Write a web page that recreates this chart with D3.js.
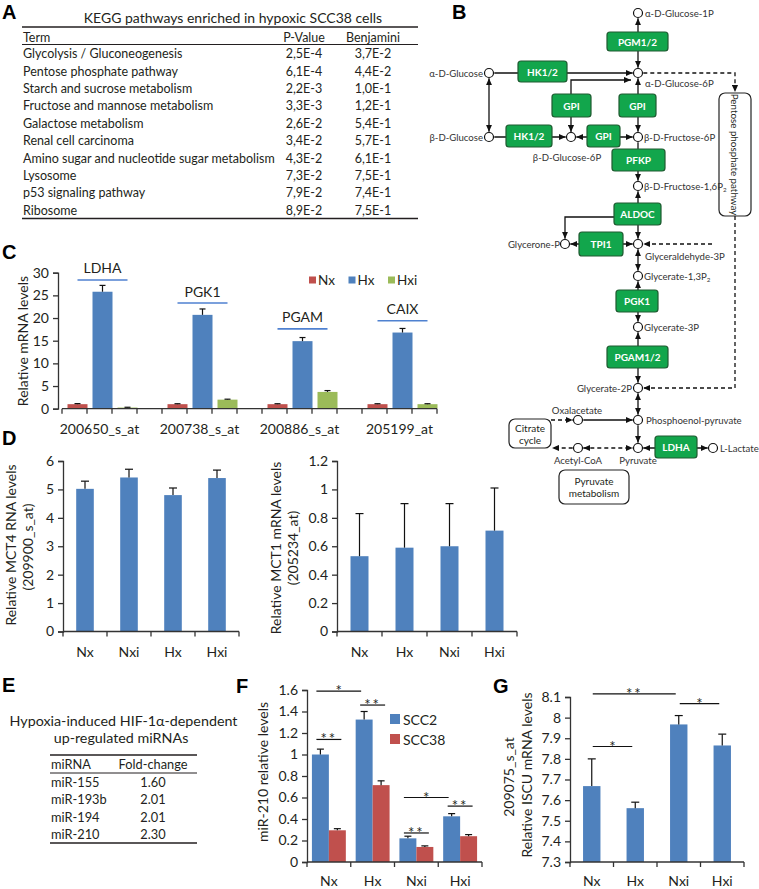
<!DOCTYPE html>
<html><head><meta charset="utf-8">
<script src="https://cdn.jsdelivr.net/npm/d3@7/dist/d3.min.js"></script>
<style>
html,body{margin:0;padding:0;background:#fff;}
</style></head>
<body>
<svg id="fig" width="759" height="889" xmlns="http://www.w3.org/2000/svg"></svg>
<script>
// ================= DATA =================
// Panel A
const keggTitle = "KEGG pathways enriched in hypoxic SCC38 cells";
const keggHeader = ["Term", "P-Value", "Benjamini"];
const keggTerms = ["Glycolysis / Gluconeogenesis", "Pentose phosphate pathway", "Starch and sucrose metabolism",
  "Fructose and mannose metabolism", "Galactose metabolism", "Renal cell carcinoma",
  "Amino sugar and nucleotide sugar metabolism", "Lysosome", "p53 signaling pathway", "Ribosome"];
const keggPValues = ["2,5E-4", "6,1E-4", "2,2E-3", "3,3E-3", "2,6E-2", "3,4E-2", "4,3E-2", "7,3E-2", "7,9E-2", "8,9E-2"];
const keggBenjamini = ["3,7E-2", "4,4E-2", "1,0E-1", "1,2E-1", "5,4E-1", "5,7E-1", "6,1E-1", "7,5E-1", "7,4E-1", "7,5E-1"];

// Panel B (pathway content)
const metaboliteIds = ["g1p","g6p","aglc","bglc","bg6p","f6p","f16p","gap","dhap","g13p","g3p","g2p","pep","oaa","pyr","acoa","lac"];
const metaboliteLabels = ["α-D-Glucose-1P","α-D-Glucose-6P","α-D-Glucose","β-D-Glucose","β-D-Glucose-6P","β-D-Fructose-6P",
  "β-D-Fructose-1,6P|2","Glyceraldehyde-3P","Glycerone-P","Glycerate-1,3P|2","Glycerate-3P","Glycerate-2P",
  "Phosphoenol-pyruvate","Oxalacetate","Pyruvate","Acetyl-CoA","L-Lactate"];
const enzymeLabels = ["PGM1/2","HK1/2","GPI","GPI","HK1/2","GPI","PFKP","ALDOC","TPI1","PGK1","PGAM1/2","LDHA"];
const moduleLabels = ["Pentose phosphate pathway","Citrate|cycle","Pyruvate|metabolism"];
// reactions: [from, to, heads, dashed]
const reactions = [
  ["g6p","g1p","both",0],["aglc","g6p","end",0],["aglc","bglc","both",0],["bglc","bg6p","end",0],
  ["bg6p","g6p","both",0],["g6p","f6p","both",0],["bg6p","f6p","both",0],["f6p","f16p","end",0],
  ["f16p","gap","both",0],["f16p","dhap","end",0],["dhap","gap","both",0],["gap","g13p","both",0],
  ["g13p","g3p","both",0],["g3p","g2p","both",0],["g2p","pep","both",0],["oaa","pep","end",0],
  ["pep","pyr","end",0],["pyr","lac","both",0],
  ["g6p","ppp","end",1],["ppp","g2p","end",1],["ppp","gap","end",1],["tca","oaa","end",1],
  ["acoa","tca","end",1],["acoa","pyr","both",1]
];

// Panel C
const cProbes = ["200650_s_at", "200738_s_at", "200886_s_at", "205199_at"];
const cGenes = ["LDHA", "PGK1", "PGAM", "CAIX"];
const cSeries = ["Nx", "Hx", "Hxi"];
const cNx = [1.0, 1.0, 1.0, 1.0];
const cNxErr = [1.12, 1.1, 1.1, 1.1];
const cHx = [25.8, 20.7, 14.9, 16.8];
const cHxErr = [27.2, 22.0, 15.7, 17.7];
const cHxi = [0.25, 2.0, 3.7, 1.0];
const cHxiErr = [0.32, 2.1, 4.0, 1.1];
const cGeneLineLevel = [28.4, 23.3, 17.6, 19.4];
const cYTicks = [0, 5, 10, 15, 20, 25, 30];

// Panel D
const dLeftCats = ["Nx", "Nxi", "Hx", "Hxi"];
const dLeftVals = [5.02, 5.42, 4.80, 5.40];
const dLeftErr = [5.29, 5.71, 5.05, 5.68];
const dLeftTicks = [0, 1, 2, 3, 4, 5, 6];
const dRightCats = ["Nx", "Hx", "Nxi", "Hxi"];
const dRightVals = [0.53, 0.59, 0.60, 0.71];
const dRightErr = [0.83, 0.90, 0.90, 1.01];
const dRightTicks = [0, 0.2, 0.4, 0.6, 0.8, 1, 1.2];

// Panel E
const eTitle = ["Hypoxia-induced HIF-1α-dependent", "up-regulated miRNAs"];
const eHeader = ["miRNA", "Fold-change"];
const eMirnas = ["miR-155", "miR-193b", "miR-194", "miR-210"];
const eFold = ["1.60", "2.01", "2.01", "2.30"];

// Panel F
const fCats = ["Nx", "Hx", "Nxi", "Hxi"];
const fSeries = ["SCC2", "SCC38"];
const fSCC2 = [1.0, 1.325, 0.22, 0.425];
const fSCC2Err = [1.05, 1.40, 0.24, 0.45];
const fSCC38 = [0.295, 0.715, 0.14, 0.24];
const fSCC38Err = [0.31, 0.755, 0.15, 0.255];
const fTicks = [0, 0.2, 0.4, 0.6, 0.8, 1, 1.2, 1.4, 1.6];
// significance: [catA, seriesA, catB, seriesB, level, label]
const fSig = [
  ["Nx","SCC2","Hx","SCC2",1.59,"*"], ["Hx","SCC2","Hx","SCC38",1.46,"**"],
  ["Nx","SCC2","Nx","SCC38",1.14,"**"], ["Nxi","SCC2","Hxi","SCC2",0.60,"*"],
  ["Nxi","SCC2","Nxi","SCC38",0.27,"**"], ["Hxi","SCC2","Hxi","SCC38",0.52,"**"]
];

// Panel G
const gCats = ["Nx", "Hx", "Nxi", "Hxi"];
const gVals = [7.668, 7.561, 7.967, 7.865];
const gErr = [7.80, 7.59, 8.01, 7.92];
const gTicks = [7.3, 7.4, 7.5, 7.6, 7.7, 7.8, 7.9, 8.0, 8.1];
const gSig = [["Nx","Nxi",8.115,"**"], ["Nxi","Hxi",8.068,"*"], ["Nx","Hx",7.86,"*"]];

// ================= STYLE / HELPERS =================
const FONT = "Lato, 'Open Sans', sans-serif";
const INK = "#231f20";
const RED = "#C0504D", BLUE = "#4F81BD", GREEN = "#9BBB59";
const svg = d3.select("#fig");

function T(parent, x, y, s, o = {}) {
  const t = parent.append("text").attr("x", x).attr("y", y)
    .attr("font-family", o.family || FONT).attr("font-size", o.size || 12)
    .attr("fill", o.fill || INK).attr("text-anchor", o.anchor || "start")
    .attr("dominant-baseline", o.baseline || "central");
  if (o.weight) t.attr("font-weight", o.weight);
  if (o.rotate) t.attr("transform", `rotate(${o.rotate},${x},${y})`);
  if (o.ls) t.attr("letter-spacing", o.ls);
  const parts = String(s).split("|");
  if (parts.length === 2) {
    t.append("tspan").text(parts[0]);
    t.append("tspan").text(parts[1]).attr("font-size", (o.size || 12) * 0.65).attr("dy", 3);
  } else t.text(s);
  return t;
}
function hline(p, x1, x2, y, sw = 1.2, col = INK) {
  p.append("line").attr("x1", x1).attr("x2", x2).attr("y1", y).attr("y2", y).attr("stroke", col).attr("stroke-width", sw);
}
function letter(s, x, y) {
  T(svg, x, y, s, { size: 20, weight: "bold", family: "'Liberation Sans', Arial, sans-serif", baseline: "alphabetic", fill: "#000" });
}
function yAxis(p, scale, x, ticks, size) {
  const a = p.append("g").attr("transform", `translate(${x},0)`)
    .call(d3.axisLeft(scale).tickValues(ticks).tickFormat(d => String(d)).tickSizeOuter(0).tickSize(5).tickPadding(4));
  a.select(".domain").attr("stroke", "#333").attr("stroke-width", 1.3);
  a.selectAll(".tick line").attr("stroke", "#333").attr("stroke-width", 1.3);
  a.selectAll(".tick text").attr("font-size", size).attr("font-family", FONT).attr("fill", INK);
  return a;
}
function xBase(p, positions, y) {
  const x1 = d3.min(positions), x2 = d3.max(positions);
  hline(p, x1, x2, y, 1.3, "#333");
  positions.forEach(px => p.append("line").attr("x1", px).attr("x2", px).attr("y1", y).attr("y2", y + 5).attr("stroke", "#333").attr("stroke-width", 1.3));
}
function errBar(p, cx, y0, y1, cap) {
  p.append("line").attr("x1", cx).attr("x2", cx).attr("y1", y0).attr("y2", y1).attr("stroke", "#111").attr("stroke-width", 1.2);
  hline(p, cx - cap / 2, cx + cap / 2, y1, 1.2, "#111");
}
function sigMark(p, x1, x2, y, label) {
  hline(p, x1, x2, y, 1.2, "#111");
  T(p, (x1 + x2) / 2, y + 5, label, { size: 15, anchor: "middle", baseline: "alphabetic", ls: label.length > 1 ? 2 : 0 });
}

// ================= PANEL A =================
const gA = svg.append("g");
letter("A", 2, 19);
T(gA, 233, 17, keggTitle, { size: 14, anchor: "middle" });
const aRows = d3.scaleBand().domain(keggTerms).range([45, 219]);
const aCols = d3.scalePoint().domain(["P-Value", "Benjamini"]).range([304, 373]);
hline(gA, 22, 418, 27, 1.3);
hline(gA, 22, 418, 44.5, 1);
hline(gA, 22, 418, 218.5, 1.3);
T(gA, 23, 37, keggHeader[0], { size: 12.5 });
T(gA, aCols("P-Value"), 37, keggHeader[1], { size: 12.5, anchor: "middle" });
T(gA, aCols("Benjamini"), 37, keggHeader[2], { size: 12.5, anchor: "middle" });
keggTerms.forEach((t, i) => {
  const y = aRows(t) + aRows.bandwidth() / 2;
  T(gA, 23, y, t, { size: 12.5 });
  T(gA, aCols("P-Value"), y, keggPValues[i], { size: 12.5, anchor: "middle" });
  T(gA, aCols("Benjamini"), y, keggBenjamini[i], { size: 12.5, anchor: "middle" });
});

// ================= PANEL B =================
letter("B", 452, 19);
const gB = svg.append("g");
const defs = svg.append("defs");
defs.append("marker").attr("id", "arr").attr("viewBox", "0 0 8 8").attr("refX", 8).attr("refY", 4)
  .attr("markerWidth", 7).attr("markerHeight", 7).attr("markerUnits", "userSpaceOnUse")
  .attr("orient", "auto-start-reverse")
  .append("path").attr("d", "M0,0.5 L8,4 L0,7.5 Z").attr("fill", "#111");

// layout (positions only)
const nodePos = {
  g1p: [638, 13], g6p: [638, 73], aglc: [489, 73], bglc: [489, 137], bg6p: [571, 137], f6p: [638, 137],
  f16p: [638, 186], gap: [638, 244], dhap: [565, 244], g13p: [638, 276], g3p: [638, 327], g2p: [638, 388],
  pep: [638, 420], oaa: [578, 420], pyr: [638, 448], acoa: [578, 448], lac: [713, 448]
};
const labelPos = {
  g1p: [645, 13, "start"], g6p: [645, 83, "start"], aglc: [483, 73, "end"], bglc: [483, 137, "end"],
  bg6p: [567, 157, "middle"], f6p: [644, 137, "start"], f16p: [644, 186, "start"], gap: [645, 256, "start"],
  dhap: [560, 244, "end"], g13p: [644, 276, "start"], g3p: [644, 327, "start"], g2p: [632, 388, "end"],
  pep: [646, 420, "start"], oaa: [577, 410, "middle"], pyr: [638, 460, "middle"], acoa: [578, 460, "middle"],
  lac: [720, 448, "start"]
};
const enzymeRects = [[607, 32, 61, 19], [518, 61, 49, 21], [552, 94, 39, 23], [619, 94, 37, 23], [506, 125, 46, 22],
  [587, 125, 33, 22], [612, 149, 53, 22], [614, 203, 47, 22], [579, 232, 44, 24], [616, 290, 42, 22],
  [607, 346, 61, 22], [655, 436, 42, 22]];
const moduleRects = [[719, 93, 32, 123], [509, 419, 42, 29], [559, 470, 70, 34]];
// route waypoints for reactions that bend or end at modules (layout)
const routes = {
  "bg6p>g6p": [[571, 132], [571, 80], [631, 80]],
  "f16p>dhap": [[614, 217], [565, 217], "dhap"],
  "g6p>ppp": ["g6p", [735, 73], [735, 92]],
  "ppp>g2p": [[735, 216], [735, 388], "g2p"],
  "ppp>gap": [[712, 244], "gap"],
  "tca>oaa": [[551, 420], "oaa"],
  "acoa>tca": ["acoa", [552, 448]]
};
const R = 4.5;
function resolve(pts) {
  const P = pts.map(p => typeof p === "string" ? nodePos[p].slice() : p.slice());
  const shorten = (i, j) => {
    const dx = P[j][0] - P[i][0], dy = P[j][1] - P[i][1], L = Math.hypot(dx, dy);
    P[i][0] += dx / L * (R + 0.8); P[i][1] += dy / L * (R + 0.8);
  };
  if (typeof pts[0] === "string") shorten(0, 1);
  if (typeof pts[pts.length - 1] === "string") shorten(P.length - 1, P.length - 2);
  return P;
}
const lineGen = d3.line();
reactions.forEach(([a, b, heads, dashed]) => {
  const key = a + ">" + b;
  const pts = resolve(routes[key] || [a, b]);
  const path = gB.append("path").attr("d", lineGen(pts)).attr("fill", "none")
    .attr("stroke", "#111").attr("stroke-width", 1.3);
  if (dashed) path.attr("stroke-dasharray", "4,3");
  path.attr("marker-end", "url(#arr)");
  if (heads === "both") path.attr("marker-start", "url(#arr)");
});
moduleLabels.forEach((lab, i) => {
  const [x, y, w, h] = moduleRects[i];
  gB.append("rect").attr("x", x).attr("y", y).attr("width", w).attr("height", h).attr("rx", 6)
    .attr("fill", "#fff").attr("stroke", "#222").attr("stroke-width", 1.2);
  const cx = x + w / 2, cy = y + h / 2;
  if (i === 0) T(gB, cx, cy, lab, { size: 9.8, anchor: "middle", rotate: 90 });
  else {
    const ls = lab.split("|");
    T(gB, cx, cy - 6, ls[0], { size: 10, anchor: "middle" });
    T(gB, cx, cy + 6, ls[1], { size: 10, anchor: "middle" });
  }
});
enzymeLabels.forEach((lab, i) => {
  const [x, y, w, h] = enzymeRects[i];
  gB.append("rect").attr("x", x).attr("y", y).attr("width", w).attr("height", h).attr("rx", 3)
    .attr("fill", "#12A64C").attr("stroke", "#1e5a30").attr("stroke-width", 1.2);
  T(gB, x + w / 2, y + h / 2, lab, { size: 10, anchor: "middle", weight: "bold", fill: "#fff" });
});
metaboliteIds.forEach((id, i) => {
  const [x, y] = nodePos[id];
  gB.append("circle").attr("cx", x).attr("cy", y).attr("r", R).attr("fill", "#fff").attr("stroke", "#111").attr("stroke-width", 1.2);
  const [lx, ly, an] = labelPos[id];
  T(gB, lx, ly, metaboliteLabels[i], { size: 9.6, anchor: an, fill: "#333" });
});

// ================= PANEL C =================
letter("C", 2, 259);
const gC = svg.append("g");
const cY = d3.scaleLinear().domain([0, 30]).range([408.7, 272.7]);
const cX0 = d3.scaleBand().domain(cProbes).range([62, 462]);
const cX1 = d3.scaleBand().domain([...cSeries, "_gap"]).range([0, cX0.bandwidth()]);
const cBw = cX1.bandwidth();
const cColors = { Nx: RED, Hx: BLUE, Hxi: GREEN };
const cVals = { Nx: [cNx, cNxErr], Hx: [cHx, cHxErr], Hxi: [cHxi, cHxiErr] };
const cAxisEnd = cX0(cProbes[cProbes.length - 1]) + cX1("Hxi") + cBw;
const cTickPos = [];
cProbes.forEach(p => d3.range(5).forEach(k => { const v = cX0(p) + k * cBw; if (v <= cAxisEnd + 0.5 && !cTickPos.some(q => Math.abs(q - v) < 0.5)) cTickPos.push(v); }));
const barC = (p, s) => cX0(p) + cX1(s) + cBw * 0.22;
cSeries.forEach(s => {
  const [vals, errs] = cVals[s];
  cProbes.forEach((p, i) => {
    gC.append("rect").attr("x", barC(p, s)).attr("width", cBw * 0.8)
      .attr("y", cY(vals[i])).attr("height", cY(0) - cY(vals[i])).attr("fill", cColors[s]);
    errBar(gC, barC(p, s) + cBw * 0.4, cY(vals[i]), cY(errs[i]), 6);
  });
});
yAxis(gC, cY, 58, cYTicks, 14);
xBase(gC, cTickPos, cY(0));
cProbes.forEach((p, i) => {
  const gx = cX0(p) + cX1("Hx") + cBw / 2;
  T(gC, gx, 428, p, { size: 14, anchor: "middle" });
  const x1 = barC(p, "Nx") + cBw * 0.4, x2 = barC(p, "Hxi") + cBw * 0.4;
  const ly = cY(cGeneLineLevel[i]);
  hline(gC, x1, x2, ly, 1.6, "#4F81D0");
  T(gC, (x1 + x2) / 2, ly - 12, cGenes[i], { size: 14, anchor: "middle" });
});
T(gC, 22, 341, "Relative mRNA levels", { size: 14, anchor: "middle", rotate: -90 });
const cLeg = d3.scalePoint().domain(cSeries).range([309, 388]);
cSeries.forEach(s => {
  gC.append("rect").attr("x", cLeg(s)).attr("y", 276.5).attr("width", 7).attr("height", 7).attr("fill", cColors[s]);
  T(gC, cLeg(s) + 9, 280, s, { size: 13.5 });
});

// ================= PANEL D =================
letter("D", 2, 445);
const gD = svg.append("g");
function simpleBars(p, cats, vals, errs, xr, y, cap) {
  const x = d3.scaleBand().domain(cats).range(xr).paddingInner(0.6).paddingOuter(0.3);
  cats.forEach((c, i) => {
    p.append("rect").attr("x", x(c)).attr("width", x.bandwidth()).attr("y", y(vals[i]))
      .attr("height", y(y.domain()[0]) - y(vals[i])).attr("fill", BLUE);
    errBar(p, x(c) + x.bandwidth() / 2, y(vals[i]), y(errs[i]), cap);
  });
  const step = x.step();
  xBase(p, d3.range(cats.length + 1).map(k => xr[0] + k * step), y(y.domain()[0]));
  return x;
}
const dLY = d3.scaleLinear().domain([0, 6]).range([631.5, 461]);
const dLX = simpleBars(gD, dLeftCats, dLeftVals, dLeftErr, [63, 239], dLY, 8);
yAxis(gD, dLY, 63, dLeftTicks, 14);
dLeftCats.forEach(c => T(gD, dLX(c) + dLX.bandwidth() / 2, 651, c, { size: 14, anchor: "middle" }));
T(gD, 10, 545, "Relative MCT4 RNA levels", { size: 14, anchor: "middle", rotate: -90 });
T(gD, 27, 547, "(209900_s_at)", { size: 14, anchor: "middle", rotate: -90 });

const dRY = d3.scaleLinear().domain([0, 1.2]).range([631.5, 461]);
const dRX = simpleBars(gD, dRightCats, dRightVals, dRightErr, [337, 517], dRY, 8);
yAxis(gD, dRY, 337, dRightTicks, 14);
dRightCats.forEach(c => T(gD, dRX(c) + dRX.bandwidth() / 2, 651, c, { size: 14, anchor: "middle" }));
T(gD, 275, 548, "Relative MCT1 mRNA levels", { size: 14, anchor: "middle", rotate: -90 });
T(gD, 292, 548, "(205234_at)", { size: 14, anchor: "middle", rotate: -90 });

// ================= PANEL E =================
letter("E", 2, 692);
const gE = svg.append("g");
T(gE, 123.5, 720, eTitle[0], { size: 14.3, anchor: "middle" });
T(gE, 121, 737, eTitle[1], { size: 14.3, anchor: "middle" });
const eRows = d3.scaleBand().domain(eMirnas).range([773, 843]);
hline(gE, 50, 197, 755, 1.3);
hline(gE, 50, 197, 773, 1);
hline(gE, 50, 197, 843, 1.3);
T(gE, 51, 764, eHeader[0], { size: 12.8 });
T(gE, 153, 764, eHeader[1], { size: 12.8, anchor: "middle" });
eMirnas.forEach((m, i) => {
  const y = eRows(m) + eRows.bandwidth() / 2;
  T(gE, 51, y, m, { size: 12.8 });
  T(gE, 153, y, eFold[i], { size: 12.8, anchor: "middle" });
});

// ================= PANEL F =================
letter("F", 236, 693);
const gF = svg.append("g");
const fY = d3.scaleLinear().domain([0, 1.6]).range([862, 690]);
const fX0 = d3.scaleBand().domain(fCats).range([307, 482]);
const fX1 = d3.scaleBand().domain(fSeries).range([0, fX0.bandwidth()]).paddingOuter(0.29);
const fVals = { SCC2: [fSCC2, fSCC2Err], SCC38: [fSCC38, fSCC38Err] };
const fColors = { SCC2: BLUE, SCC38: RED };
fSeries.forEach(s => {
  const [vals, errs] = fVals[s];
  fCats.forEach((c, i) => {
    const x = fX0(c) + fX1(s);
    gF.append("rect").attr("x", x).attr("width", fX1.bandwidth()).attr("y", fY(vals[i]))
      .attr("height", fY(0) - fY(vals[i])).attr("fill", fColors[s]);
    errBar(gF, x + fX1.bandwidth() / 2, fY(vals[i]), fY(errs[i]), 7);
  });
});
yAxis(gF, fY, 307, fTicks, 14);
xBase(gF, d3.range(fCats.length + 1).map(k => 307 + k * fX0.step()), fY(0));
fCats.forEach(c => T(gF, fX0(c) + fX0.bandwidth() / 2, 880, c, { size: 14, anchor: "middle" }));
T(gF, 262, 772, "miR-210 relative levels", { size: 14, anchor: "middle", rotate: -90 });
const fCenter = (c, s) => fX0(c) + fX1(s) + fX1.bandwidth() / 2;
fSig.forEach(([ca, sa, cb, sb, lvl, lab]) => {
  const same = ca === cb;
  sigMark(gF, fCenter(ca, sa) - 4, fCenter(cb, sb) + (same ? 4 : -3), fY(lvl), lab);
});
const fLeg = d3.scalePoint().domain(fSeries).range([719, 739]);
fSeries.forEach(s => {
  gF.append("rect").attr("x", 390).attr("y", fLeg(s) - 5).attr("width", 10).attr("height", 10).attr("fill", fColors[s]);
  T(gF, 403, fLeg(s), s, { size: 14 });
});

// ================= PANEL G =================
letter("G", 493, 693);
const gG = svg.append("g");
const gY = d3.scaleLinear().domain([7.3, 8.1]).range([862, 697]);
const gX = simpleBars(gG, gCats, gVals, gErr, [570, 744], gY, 8);
yAxis(gG, gY, 570, gTicks, 14);
gCats.forEach(c => T(gG, gX(c) + gX.bandwidth() / 2, 880, c, { size: 14, anchor: "middle" }));
T(gG, 526, 775, "Relative ISCU mRNA levels", { size: 14, anchor: "middle", rotate: -90 });
T(gG, 508, 777, "209075_s_at", { size: 14, anchor: "middle", rotate: -90 });
const gCenter = c => gX(c) + gX.bandwidth() / 2;
gSig.forEach(([a, b, lvl, lab]) => sigMark(gG, gCenter(a) + 1, gCenter(b) - 3, gY(lvl), lab));
</script>
</body></html>
